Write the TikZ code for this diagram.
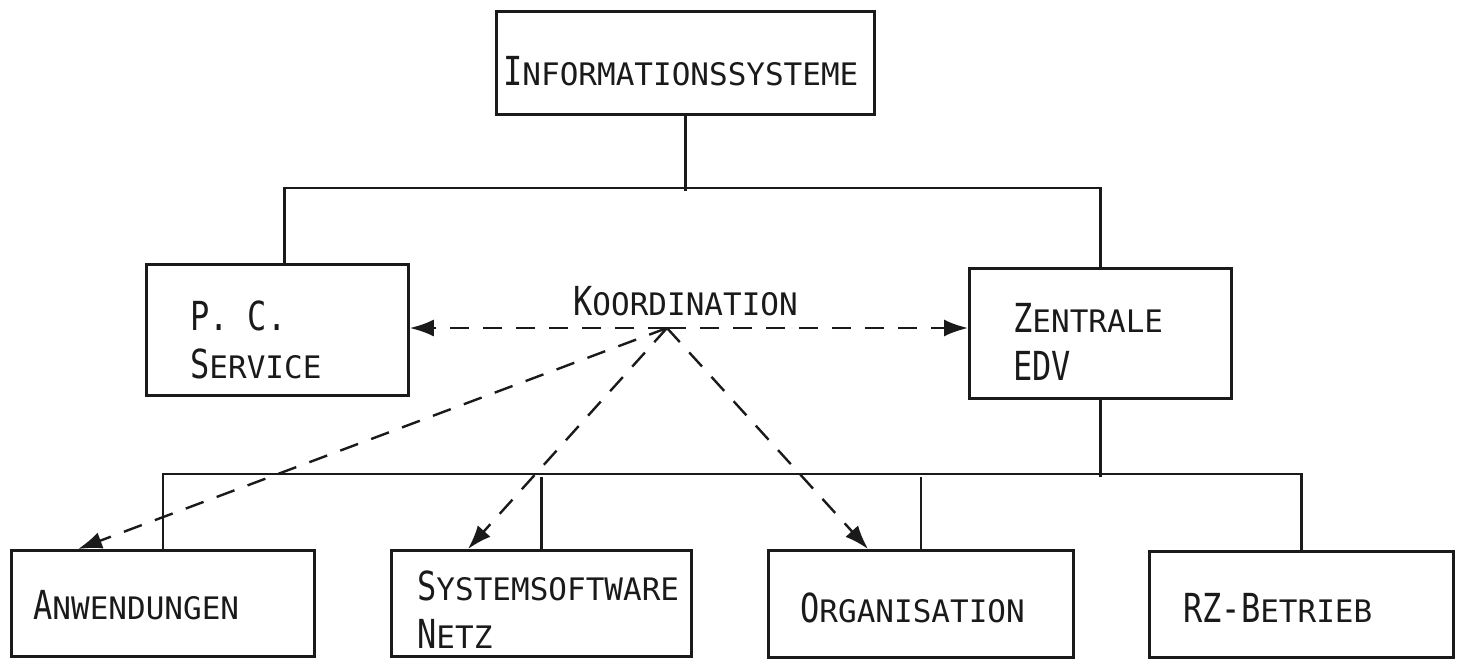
\documentclass[tikz,border=0pt]{standalone}
\usepackage{fontspec}
\usetikzlibrary{arrows.meta}
% hand-lettered look: monospaced sans, enlarged initials as fake small caps
\newfontfamily\letterA{DejaVu Sans Mono}
\newfontfamily\letterB[FakeStretch=0.8]{DejaVu Sans Mono}
\newcommand\capL[1]{{\letterB\fontsize{40}{44}\selectfont #1}}
\newcommand\lowL{\letterA\fontsize{31}{36}\selectfont}
\definecolor{ink}{HTML}{1A1A1A}
\begin{document}
\begin{tikzpicture}[x=1pt,y=-1pt,
  box/.style={draw=ink, line width=2.8pt, rectangle, inner sep=0pt, anchor=north west},
  txt/.style={anchor=base west, inner sep=0pt, text=ink, font=\lowL},
  tree/.style={draw=ink, line width=2.6pt},
  coord/.style={draw=ink, line width=2.4pt, dash pattern=on 19pt off 14pt,
                -{Latex[length=24pt,width=17pt]}}]
\useasboundingbox (0,0) rectangle (1461,659);

% boxes
\node[box, minimum width=378pt, minimum height=103pt] (info) at (495,10) {};
\node[box, minimum width=262pt, minimum height=131pt] (pc)   at (145,263) {};
\node[box, minimum width=262pt, minimum height=130pt] (zed)  at (968,267) {};
\node[box, minimum width=303pt, minimum height=106pt] (anw)  at (10,549) {};
\node[box, minimum width=300pt, minimum height=106pt] (sys)  at (390,549) {};
\node[box, minimum width=305pt, minimum height=107pt] (org)  at (767,549) {};
\node[box, minimum width=304pt, minimum height=106pt] (rz)   at (1148,550) {};

% labels
\node[txt] (infoT) at (503,85)  {\capL{I}NFORMATIONSSYSTEME};
\node[txt] (pcT1)  at (190,330) {\capL{P. C.}};
\node[txt] (pcT2)  at (190,378) {\capL{S}ERVICE};
\node[txt] (zedT1) at (1013,332) {\capL{Z}ENTRALE};
\node[txt] (zedT2) at (1013,380) {\capL{EDV}};
\node[txt] (anwT)  at (33,619)  {\capL{A}NWENDUNGEN};
\node[txt] (sysT1) at (417,600) {\capL{S}YSTEMSOFTWARE};
\node[txt] (sysT2) at (417,648) {\capL{N}ETZ};
\node[txt] (orgT)  at (800,622) {\capL{O}RGANISATION};
\node[txt] (rzT)   at (1183,622) {\capL{RZ-B}ETRIEB};
\node[txt] (koord) at (573,315) {\capL{K}OORDINATION};

% organisation tree
\draw[tree] (info.south) -- ++(0,75) coordinate (bus1);
\draw[tree] ([xshift=7pt]pc.north) -- ++(0,-75) -| (zed.north);
\draw[tree] (zed.south) -- ++(0,77) coordinate (bus2);
\draw[tree] (anw.north) -- ++(0,-75) -| (rz.north);
\draw[tree] (sys.north) -- (sys.north |- bus2);
\draw[tree] (org.north) -- (org.north |- bus2);

% coordination arrows
\coordinate (co) at (667,328);
\draw[coord] (co) -- (pc.east |- co);
\draw[coord] (co) -- (zed.west |- co);
\draw[coord] (co) -- ([xshift=68pt]anw.north west);
\draw[coord] (co) -- ([xshift=78pt]sys.north west);
\draw[coord] (co) -- ([xshift=101pt]org.north west);
\end{tikzpicture}
\end{document}
